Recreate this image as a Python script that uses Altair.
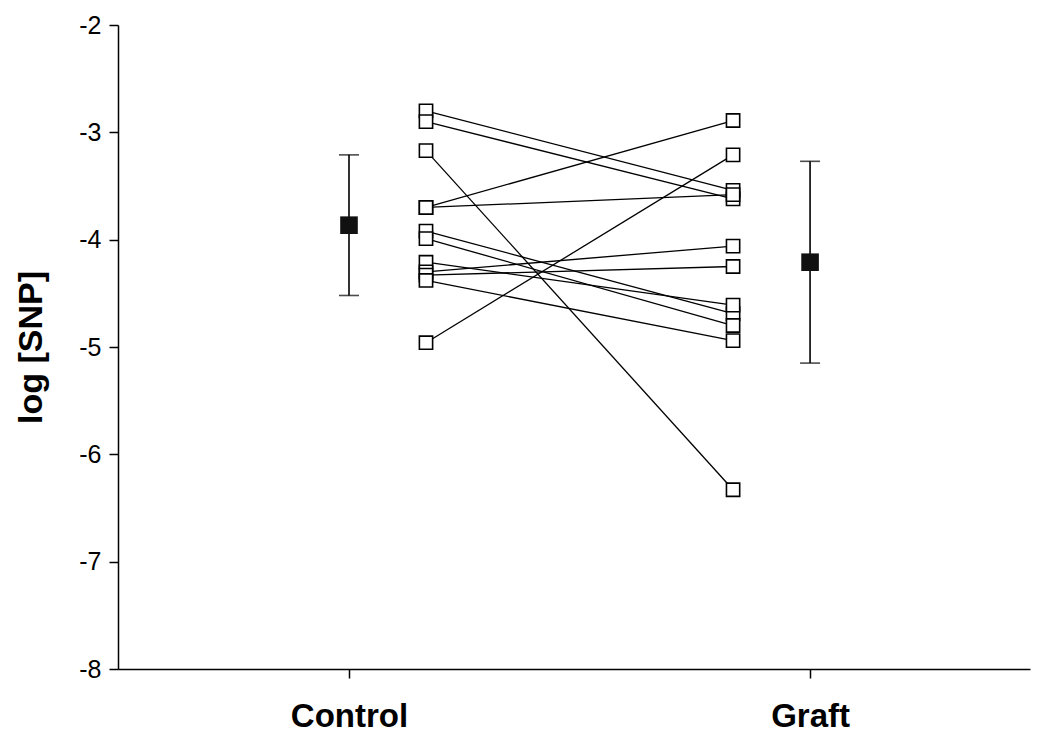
import altair as alt
import pandas as pd

# ---- data ----
groups = ["Control", "Graft"]
control_values = [-2.80, -2.90, -3.17, -3.70, -3.70, -3.92, -3.99, -4.21, -4.30, -4.33, -4.38, -4.96]
graft_values = [-3.54, -3.62, -6.33, -2.89, -3.58, -4.69, -4.80, -4.61, -4.06, -4.25, -4.94, -3.21]
group_means = [-3.865, -4.21]
bar_upper = [-3.21, -3.27]
bar_lower = [-4.52, -5.15]
y_ticks = [-8, -7, -6, -5, -4, -3, -2]

# ---- layout positions on the x scale (0 = Control, 1 = Graft) ----
group_x = [0.0, 1.0]
pair_x = [0.167, 0.833]

rows = []
for i, (c, g) in enumerate(zip(control_values, graft_values)):
    rows.append({"subject": i, "x": pair_x[0], "y": c})
    rows.append({"subject": i, "x": pair_x[1], "y": g})
pairs = pd.DataFrame(rows)

means = pd.DataFrame({
    "group": groups,
    "x": group_x,
    "mean": group_means,
    "hi": bar_upper,
    "lo": bar_lower,
})

FONT = "Liberation Sans"

xscale = alt.Scale(domain=[-0.501, 1.477], nice=False, zero=False)
yscale = alt.Scale(domain=[-8, -2], nice=False, zero=False)

xaxis = alt.Axis(
    values=group_x, title=None, grid=False,
    labelExpr="datum.value == 0 ? 'Control' : 'Graft'",
    labelFont=FONT, labelFontSize=33, labelFontWeight="bold", labelColor="black",
    labelPadding=22, tickSize=9, tickColor="black", tickWidth=1.5,
    domainColor="black", domainWidth=1.5,
)
yaxis = alt.Axis(
    values=y_ticks, title="log [SNP]", grid=False,
    labelExpr="'' + datum.value",
    labelFont=FONT, labelFontSize=25, labelColor="black", labelPadding=8,
    titleFont=FONT, titleFontSize=34, titleFontWeight="bold", titleColor="black",
    titlePadding=30,
    tickSize=9, tickColor="black", tickWidth=1.5,
    domainColor="black", domainWidth=1.5,
)

base_x = alt.X("x:Q", scale=xscale, axis=xaxis)
base_y = alt.Y("y:Q", scale=yscale, axis=yaxis)

lines = alt.Chart(pairs).mark_line(color="black", strokeWidth=1.3).encode(
    x=base_x, y=base_y, detail="subject:N"
)
squares = alt.Chart(pairs).mark_point(
    shape="square", filled=True, fill="white", stroke="black", strokeWidth=1.6,
    size=175, opacity=1
).encode(x=alt.X("x:Q", scale=xscale), y=alt.Y("y:Q", scale=yscale))

err = alt.Chart(means).mark_rule(color="black", strokeWidth=1.6).encode(
    x=alt.X("x:Q", scale=xscale), y=alt.Y("hi:Q", scale=yscale), y2="lo:Q"
)
cap_hi = alt.Chart(means).mark_tick(
    color="black", orient="horizontal", size=20, thickness=1.6
).encode(x=alt.X("x:Q", scale=xscale), y=alt.Y("hi:Q", scale=yscale))
cap_lo = alt.Chart(means).mark_tick(
    color="black", orient="horizontal", size=20, thickness=1.6
).encode(x=alt.X("x:Q", scale=xscale), y=alt.Y("lo:Q", scale=yscale))
mean_pts = alt.Chart(means).mark_point(
    shape="square", filled=True, color="#111111", size=310, opacity=1
).encode(x=alt.X("x:Q", scale=xscale), y=alt.Y("mean:Q", scale=yscale))

chart = alt.layer(lines, squares, err, cap_hi, cap_lo, mean_pts).properties(
    width=912, height=644,
    autosize=alt.AutoSizeParams(type="none"),
    padding={"left": 110, "top": 17, "right": 12, "bottom": 72},
    background="white",
).configure_view(stroke=None)

chart.save("out.html", embed_options={"renderer": "svg", "actions": False})
